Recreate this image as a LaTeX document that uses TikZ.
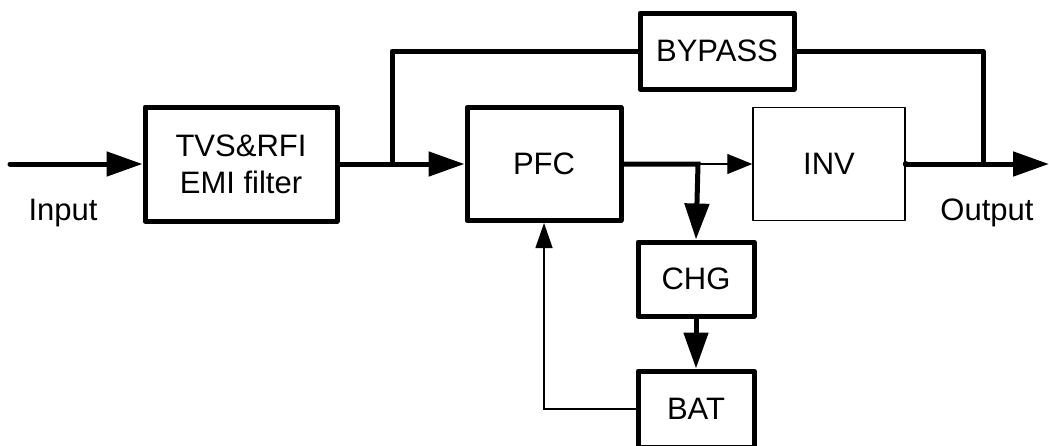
\documentclass[tikz,border=0pt]{standalone}
\usepackage{fontspec}
\setmainfont{Liberation Sans}
\usetikzlibrary{arrows.meta}
\begin{document}
\begin{tikzpicture}[x=1pt,y=-1pt,
 blk/.style={draw,line width=5pt,line join=round,inner sep=0pt,align=center,font=\fontsize{31}{37}\selectfont},
 thinblk/.style={blk,line width=1.5pt},
 thickln/.style={line width=5pt},
 thinln/.style={line width=1.3pt},
 bigtip/.style={-{Triangle[length=36pt,width=24pt]}},
 smalltip/.style={-{Triangle[length=25pt,width=20pt]}},
 fbtip/.style={-{Triangle[length=25pt,width=17pt]}},
 lbl/.style={font=\fontsize{31}{37}\selectfont,inner sep=0pt,anchor=base}]
\useasboundingbox (0,0) rectangle (1049,445);
\node[blk,minimum width=192pt,minimum height=114pt] (tvs) at (241,164) {TVS\&RFI\\EMI filter};
\node[blk,minimum width=154pt,minimum height=113pt] (pfc) at (544,164) {PFC};
\node[thinblk,minimum width=152pt,minimum height=113pt] (inv) at (829,164) {INV};
\node[blk,minimum width=154pt,minimum height=76pt] (byp) at (717,51) {BYPASS};
\node[blk,minimum width=116pt,minimum height=74pt] (chg) at (696,279) {CHG};
\node[blk,minimum width=116pt,minimum height=76pt] (bat) at (696,409) {BAT};
\node[lbl] (inlbl) at (63,220) {Input};
\node[lbl] (outlbl) at (987,220) {Output};
\coordinate (in) at (10,164);
\coordinate (j1) at (392,164);
\coordinate (j2) at (698,164);
\coordinate (j3) at (983,164);
\coordinate (out) at (1049,164);
\draw[thickln,line cap=round,bigtip] (in) -- (tvs.west);
\draw[thickln] (tvs.east) -- (j1);
\draw[thickln,bigtip] (j1) -- (pfc.west);
\draw[thickln,line join=round] (j1) |- (byp.west);
\draw[thickln,line join=round] (byp.east) -| (j3);
\draw[thickln,bigtip] (pfc.east) -- (j2) -- (chg.north);
\draw[thinln,smalltip] (j2) -- (inv.west);
\draw[thickln,bigtip] (chg.south) -- (bat.north);
\draw[thickln,bigtip] (inv.east) -- (out);
\fill (inv.east) circle (3pt);
\draw[thinln,fbtip] (bat.west) -| (pfc.south);
\end{tikzpicture}
\end{document}
